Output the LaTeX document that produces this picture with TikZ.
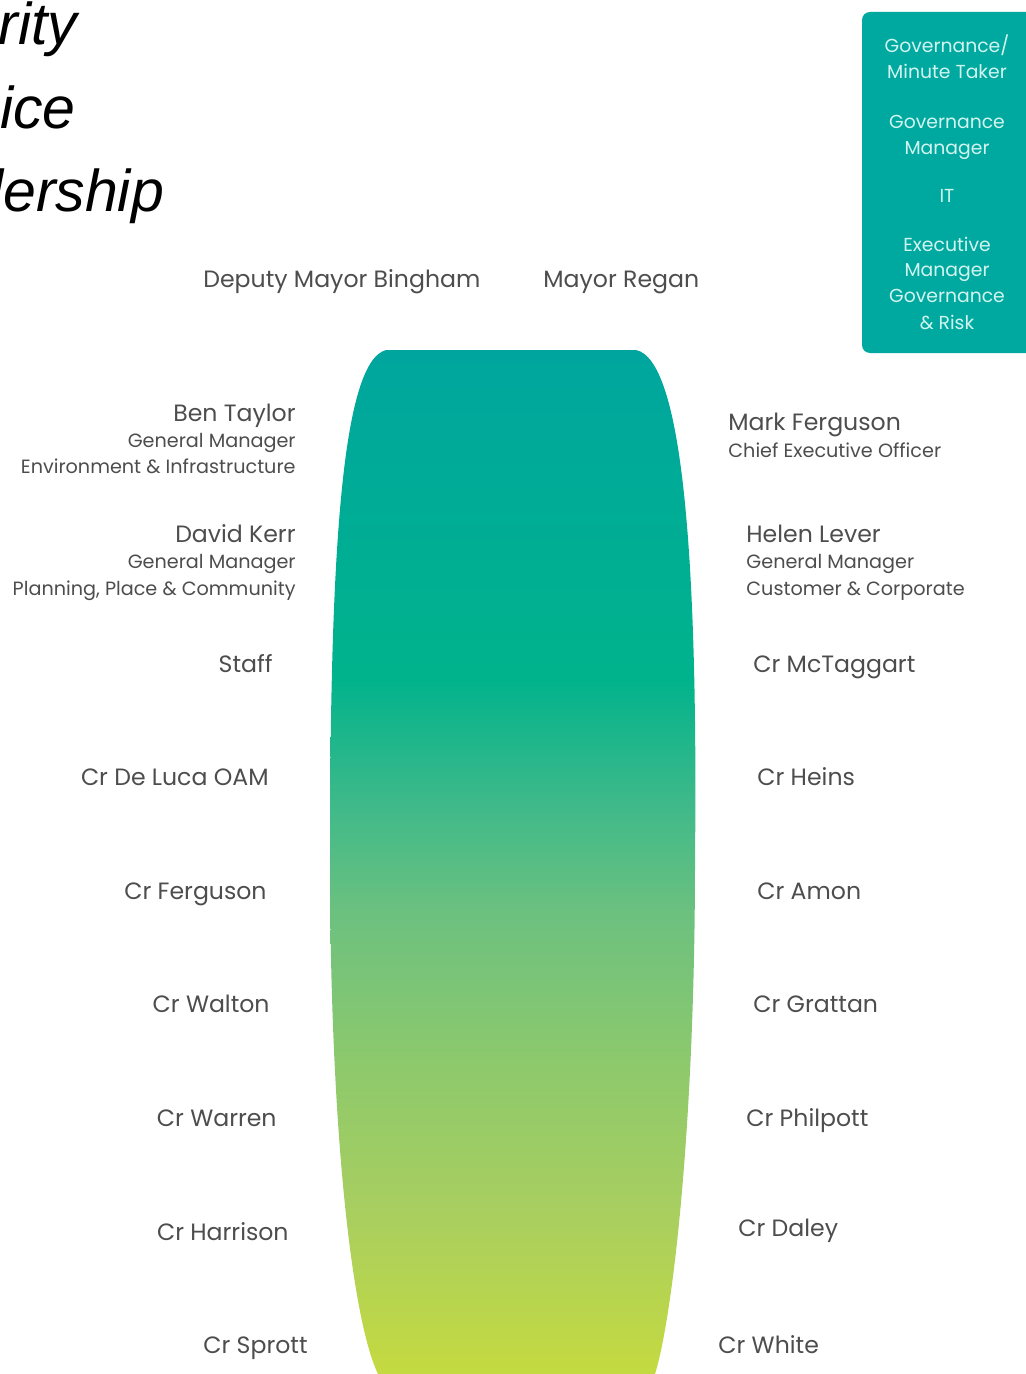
\documentclass[tikz,border=0pt]{standalone}
\usepackage{fontspec}
\setmainfont{Poppins}
\newfontfamily\mottofont{Liberation Sans}
\usepackage{tikz}

\definecolor{txtgray}{HTML}{4D4D4D}
\definecolor{panelteal}{HTML}{00A9A0}
\definecolor{paneltext}{HTML}{D2F4EF}
\definecolor{barrelA}{HTML}{00A69E}
\definecolor{barrelB}{HTML}{00B38C}
\definecolor{barrelC}{HTML}{3DB98A}
\definecolor{barrelD}{HTML}{6CC17F}
\definecolor{barrelE}{HTML}{8EC96C}
\definecolor{barrelF}{HTML}{AACF5E}
\definecolor{barrelG}{HTML}{C5DA40}

\pgfdeclareverticalshading{barrel}{100bp}{color(0bp)=(barrelG); color(25bp)=(barrelG);
  color(32.5bp)=(barrelF); color(40bp)=(barrelE); color(47.5bp)=(barrelD);
  color(53bp)=(barrelC); color(59bp)=(barrelB); color(75bp)=(barrelA); color(100bp)=(barrelA)}

\begin{document}
\begin{tikzpicture}
[x=0.5pt,y=-0.5pt,
 person/.style={font=\fontsize{11.8}{14}\selectfont,text=txtgray,inner sep=0pt},
 role/.style={font=\fontsize{9.6}{11}\selectfont,text=txtgray,inner sep=0pt},
 panel/.style={font=\fontsize{9.4}{11}\selectfont,text=paneltext,inner sep=0pt,anchor=base},
 motto/.style={font=\mottofont\itshape\fontsize{29.5}{32}\selectfont,inner sep=0pt,anchor=base west}]
\path[use as bounding box] (0,0) rectangle (1025,1374);

% cut-off values, top left
\node[motto] (integrity) at (-2,45) {rity};
\node[motto] (service) at (0,129) {ice};
\node[motto] (leadership) at (-30,212) {dership};

% support panel
\fill[panelteal,rounded corners=4pt] (862,12) rectangle (1045,353);
\node[panel] (minute) at (947,53) {Governance/};
\node[panel] (minute2) at (947,79) {Minute Taker};
\node[panel] (govman) at (947,129) {Governance};
\node[panel] (govman2) at (947,155) {Manager};
\node[panel] (it) at (947,203) {IT};
\node[panel] (exec) at (947,252) {Executive};
\node[panel] (exec2) at (947,277) {Manager};
\node[panel] (exec3) at (947,303) {Governance};
\node[panel] (exec4) at (947,329) {\& Risk};

% chamber
\shade[shading=barrel] (386,350) -- (636,350)
  .. controls (684,360) and (698,570) .. (695,860)
  .. controls (695,1130) and (672,1320) .. (655,1374)
  -- (378,1374)
  .. controls (352,1320) and (330,1130) .. (330,860)
  .. controls (330,570) and (340,362) .. (386,350) -- cycle;

% head of the table
\node[person,anchor=base west] (bingham) at (203,288) {Deputy Mayor Bingham};
\node[person,anchor=base west] (regan) at (543,288) {Mayor Regan};

% executive
\node[person,anchor=base east] (taylor) at (296,421) {Ben Taylor};
\node[role,anchor=base east] (taylorjob) at (296,447) {General Manager};
\node[role,anchor=base east] (taylordiv) at (296,473) {Environment \& Infrastructure};
\node[person,anchor=base east] (kerr) at (296,542) {David Kerr};
\node[role,anchor=base east] (kerrjob) at (296,568) {General Manager};
\node[role,anchor=base east] (kerrdiv) at (296,595) {Planning, Place \& Community};
\node[person,anchor=base west] (mferguson) at (728,430) {Mark Ferguson};
\node[role,anchor=base west] (mfergusonjob) at (728,457) {Chief Executive Officer};
\node[person,anchor=base west] (lever) at (746,542) {Helen Lever};
\node[role,anchor=base west] (leverjob) at (746,568) {General Manager};
\node[role,anchor=base west] (leverdiv) at (746,595) {Customer \& Corporate};

% councillors
\foreach \id/\x/\y/\txt in {staff/273/672/Staff, deluca/269/785/Cr De Luca OAM,
  cferguson/267/899/Cr Ferguson, walton/270/1012/Cr Walton, warren/277/1126/Cr Warren,
  harrison/289/1240/Cr Harrison, sprott/308/1353/Cr Sprott}
  \node[person,anchor=base east] (\id) at (\x,\y) {\txt};
\foreach \id/\x/\y/\txt in {mctaggart/753/672/Cr McTaggart, heins/757/785/Cr Heins,
  amon/757/899/Cr Amon, grattan/753/1012/Cr Grattan, philpott/746/1126/Cr Philpott,
  daley/738/1236/Cr Daley, white/718/1353/Cr White}
  \node[person,anchor=base west] (\id) at (\x,\y) {\txt};

\end{tikzpicture}
\end{document}
